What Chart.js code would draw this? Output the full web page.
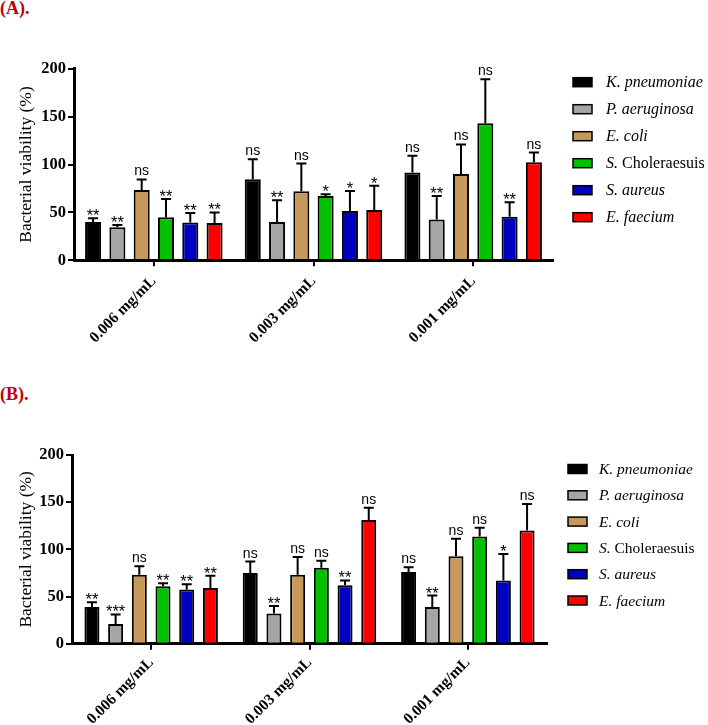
<!DOCTYPE html>
<html>
<head>
<meta charset="utf-8">
<script src="https://cdn.jsdelivr.net/npm/chart.js@4"></script>
<style>
  body { margin: 0; background: #fff; width: 708px; height: 725px; position: relative; overflow: hidden; }
  .panel { position: absolute; left: 0; }
  .tag { position: absolute; left: 0; font: bold 18px "Liberation Serif", serif; color: #c00000; line-height: 18px; }
</style>
</head>
<body>
<div class="tag" style="top:-1px">(A).</div>
<div class="tag" style="top:385px">(B).</div>
<canvas id="chartA" class="panel" style="top:0" width="708" height="360"></canvas>
<canvas id="chartB" class="panel" style="top:360px" width="708" height="365"></canvas>
<script>
const categories = ['0.006 mg/mL', '0.003 mg/mL', '0.001 mg/mL'];
const species = ['K. pneumoniae', 'P. aeruginosa', 'E. coli', 'S. Choleraesuis', 'S. aureus', 'E. faecium'];
const colors = ['#000000', '#a5a5a8', '#c6985a', '#00c000', '#0000c0', '#ff0000'];
const yTicks = [0, 50, 100, 150, 200];

// panel A: one row per species, one value per concentration
const meansA = [
  [40, 84.6, 91.6],
  [34.5, 40, 42.7],
  [73.4, 72, 90],
  [45, 67, 143],
  [39.5, 51.4, 45.5],
  [39, 52.4, 102.4]
];
const errorsA = [
  [4, 21, 17.5],
  [2.3, 22.7, 24.5],
  [11, 29, 31],
  [19, 2, 46],
  [10, 21, 15],
  [11, 25.5, 10]
];
const signifA = [
  ['**', 'ns', 'ns'],
  ['**', '**', '**'],
  ['ns', 'ns', 'ns'],
  ['**', '*', 'ns'],
  ['**', '*', '**'],
  ['**', '*', 'ns']
];

// panel B
const meansB = [
  [39, 75, 76],
  [21, 32, 39],
  [73, 73, 92.6],
  [61, 80.5, 113.5],
  [57.5, 62, 67],
  [59, 131, 120]
];
const errorsB = [
  [5, 12, 5],
  [10, 8, 12],
  [9, 19, 18.7],
  [3, 7.5, 9.5],
  [5.5, 5, 28],
  [13, 13, 28]
];
const signifB = [
  ['**', 'ns', 'ns'],
  ['***', '**', '**'],
  ['ns', 'ns', 'ns'],
  ['**', 'ns', 'ns'],
  ['**', '**', '*'],
  ['**', 'ns', 'ns']
];

const SERIF = '"Liberation Serif", "Times New Roman", serif';
const SANS = '"Liberation Sans", Arial, sans-serif';

// error bars (upper only) + significance marks
const errorBars = {
  id: 'errorBars',
  afterDatasetsDraw(chart) {
    const ctx = chart.ctx;
    const y = chart.scales.y;
    ctx.save();
    ctx.strokeStyle = '#000';
    ctx.fillStyle = '#000';
    ctx.lineWidth = 2;
    ctx.textAlign = 'center';
    chart.data.datasets.forEach((ds, i) => {
      chart.getDatasetMeta(i).data.forEach((bar, j) => {
        const yTop = y.getPixelForValue(ds.data[j] + ds.errors[j]);
        ctx.beginPath();
        ctx.moveTo(bar.x, bar.y);
        ctx.lineTo(bar.x, yTop);
        ctx.moveTo(bar.x - 5, yTop);
        ctx.lineTo(bar.x + 5, yTop);
        ctx.stroke();
        const s = ds.signif[j];
        if (s === 'ns') {
          ctx.font = '14px ' + SANS;
          ctx.fillText(s, bar.x, yTop - 4);
        } else {
          ctx.font = '16.5px ' + SANS;
          ctx.fillText(s, bar.x, yTop + 3);
        }
      });
    });
    ctx.restore();
  }
};

// legend with italic genus/species and roman serovar name
const speciesLegend = {
  id: 'speciesLegend',
  afterDraw(chart, args, opts) {
    const ctx = chart.ctx;
    const x0 = chart.chartArea.right + opts.dx;
    const y0 = chart.chartArea.top + opts.dy;
    ctx.save();
    chart.data.datasets.forEach((ds, i) => {
      const yc = y0 + i * opts.step;
      ctx.fillStyle = ds.backgroundColor;
      ctx.fillRect(x0, yc - 4.5, 19, 9);
      ctx.strokeStyle = '#000';
      ctx.lineWidth = 1.5;
      ctx.strokeRect(x0, yc - 4.5, 19, 9);
      const cut = ds.label.indexOf(' ');
      const genus = ds.label.slice(0, cut + 1);
      const rest = ds.label.slice(cut + 1);
      ctx.fillStyle = '#000';
      ctx.textAlign = 'left';
      ctx.font = 'italic ' + opts.size + 'px ' + SERIF;
      let tx = x0 + opts.textDx;
      ctx.fillText(genus, tx, yc + 5);
      tx += ctx.measureText(genus).width;
      const roman = rest[0] === rest[0].toUpperCase();
      ctx.font = (roman ? '' : 'italic ') + opts.size + 'px ' + SERIF;
      ctx.fillText(rest, tx, yc + 5);
    });
    ctx.restore();
  }
};

function makePanel(id, means, errors, signif, g) {
  const canvas = document.getElementById(id);
  const W = canvas.width, H = canvas.height;
  return new Chart(canvas.getContext('2d'), {
    type: 'bar',
    data: {
      labels: categories,
      datasets: species.map((name, i) => ({
        label: name,
        data: means[i],
        errors: errors[i],
        signif: signif[i],
        backgroundColor: colors[i],
        borderColor: '#000',
        borderWidth: 2,
        barPercentage: g.barPct,
        categoryPercentage: g.catPct
      }))
    },
    options: {
      responsive: false,
      animation: false,
      layout: { padding: { left: 0, top: g.top, right: W - g.right, bottom: 0 } },
      plugins: {
        legend: { display: false },
        tooltip: { enabled: false },
        speciesLegend: { dx: g.legDx, dy: g.legDy, step: g.legStep, textDx: g.legTextDx, size: g.legSize }
      },
      scales: {
        x: {
          grid: { drawOnChartArea: false, drawTicks: true, tickLength: 6, offset: false, color: '#000', lineWidth: 2 },
          border: { display: true, color: '#000', width: 3 },
          ticks: {
            color: '#000',
            font: { family: SERIF, weight: 'bold', size: 15.5 },
            maxRotation: 45, minRotation: 45, padding: g.xPad
          },
          afterFit(s) { s.height = H - g.bottom; }
        },
        y: {
          min: 0, max: 200,
          afterBuildTicks(s) { s.ticks = yTicks.map(v => ({ value: v })); },
          ticks: { color: '#000', font: { family: SERIF, weight: 'bold', size: 16.5 }, padding: 2 },
          grid: { drawOnChartArea: false, tickLength: 6, color: '#000', lineWidth: 2 },
          border: { display: true, color: '#000', width: 3 },
          title: {
            display: true, text: 'Bacterial viability (%)', color: '#000',
            font: { family: SERIF, size: 17.5 }, padding: { top: 16, bottom: 0 }
          },
          afterFit(s) { s.width = g.left; }
        }
      }
    },
    plugins: [errorBars, speciesLegend]
  });
}

makePanel('chartA', meansA, errorsA, signifA, {
  left: 74, right: 553, top: 68.7, bottom: 260.3, xPad: 6,
  barPct: 0.66, catPct: 0.913,
  legDx: 20, legDy: 13.5, legStep: 27, legTextDx: 33, legSize: 16
});
makePanel('chartB', meansB, errorsB, signifB, {
  left: 72, right: 547, top: 95, bottom: 283.7, xPad: 4,
  barPct: 0.633, catPct: 0.898,
  legDx: 21, legDy: 14, legStep: 26.3, legTextDx: 31, legSize: 15.5
});
</script>
</body>
</html>
